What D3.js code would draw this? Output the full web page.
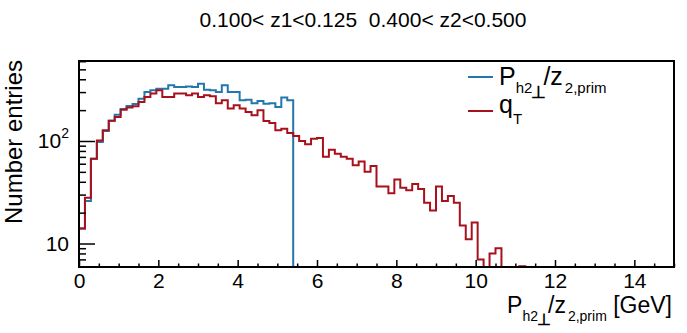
<!DOCTYPE html>
<html>
<head>
<meta charset="utf-8">
<script src="https://cdn.jsdelivr.net/npm/d3@7"></script>
<style>
html,body{margin:0;padding:0;background:#fff;}
svg{display:block;font-family:"Liberation Sans",Arial,Helvetica,sans-serif;}
</style>
</head>
<body>
<svg id="chart" width="687" height="333"></svg>
<script>
// ---- data ----
const binEdges = {min: 0, max: 15, n: 100};
const qT = [14,28,67,101,127,158,171,202,212,218,
            240,268,290,312,268,268,290,290,279,290,
            268,279,273,234,250,207,223,207,192,178,
            199,157,150,127,132,120,112,100,93,105,
            107,70,82,75,70,67,58,63,50,57,
            36,36,31,42,35,33,38,34,25,21,
            36,26,29,25,15,11,16,7,0,8,
            9,0,0,0,6,0,0,0,0,0,
            0,0,0,0,0,0,0,0,0,0,
            0,0,0,0,0,0,0,0,0,0];
const Pperp = [14,26,67,98,125,158,180,205,220,230,
               259,300,312,324,324,349,337,337,340,337,
               362,316,312,300,349,300,300,250,253,234,
               245,231,234,214,265,250];
const xMajorTicks = [0,2,4,6,8,10,12,14];
const yMajorTicks = [10,100];
const yMinorTicks = [6,7,8,9,20,30,40,50,60,70,80,90,200,300,400,500,600];
const titleText = "0.100< z1<0.125  0.400< z2<0.500";
const yTitle = "Number entries";

// ---- layout ----
const svg = d3.select("#chart");
const L = 79, R = 674, T = 61, B = 267;
const x = d3.scaleLinear().domain([binEdges.min, binEdges.max]).range([L, R]);
const y = d3.scaleLog().domain([5.9, 603]).range([B, T]);
const bw = (binEdges.max - binEdges.min) / binEdges.n;

function histPath(vals) {
  const pts = [];
  const yv = v => (v > y.domain()[0] ? y(v) : B);
  pts.push([x(0), B]);
  for (let i = 0; i < binEdges.n; i++) {
    const v = i < vals.length ? vals[i] : 0;
    pts.push([x(i * bw), yv(v)]);
    pts.push([x((i + 1) * bw), yv(v)]);
  }
  pts.push([x(binEdges.max), B]);
  return d3.line()(pts);
}

svg.append("path").attr("d", histPath(Pperp))
  .attr("fill", "none").attr("stroke", "#2477ad").attr("stroke-width", 2);
svg.append("path").attr("d", histPath(qT))
  .attr("fill", "none").attr("stroke", "#a8111c").attr("stroke-width", 2);

// frame
svg.append("rect").attr("x", L).attr("y", T).attr("width", R - L).attr("height", B - T)
  .attr("fill", "none").attr("stroke", "#000").attr("stroke-width", 2);

// x axis
const xMinor = d3.range(0, 15.01, 0.5).filter(v => v % 2 !== 0);
const gxMinor = svg.append("g").attr("transform", `translate(0,${B})`)
  .call(d3.axisBottom(x).tickValues(xMinor).tickSize(-3.5).tickFormat(""));
const gx = svg.append("g").attr("transform", `translate(0,${B})`)
  .call(d3.axisBottom(x).tickValues(xMajorTicks).tickSize(-7).tickPadding(6).tickFormat(d3.format("d")));
[gxMinor, gx].forEach(g => {
  g.select(".domain").remove();
  g.selectAll("line").attr("stroke", "#000").attr("stroke-width", 1.5);
});
gx.selectAll("text").attr("font-size", 21).attr("fill", "#000")
  .attr("font-family", "Liberation Sans, Arial, sans-serif");

// y axis
const gyMinor = svg.append("g").attr("transform", `translate(${L},0)`)
  .call(d3.axisLeft(y).tickValues(yMinorTicks).tickSize(-7).tickFormat(""));
const gy = svg.append("g").attr("transform", `translate(${L},0)`)
  .call(d3.axisLeft(y).tickValues(yMajorTicks).tickSize(-16).tickPadding(10).tickFormat(d => "10"));
[gyMinor, gy].forEach(g => {
  g.select(".domain").remove();
  g.selectAll("line").attr("stroke", "#000").attr("stroke-width", 1.5);
});
gy.selectAll("text").attr("font-size", 21).attr("fill", "#000")
  .attr("font-family", "Liberation Sans, Arial, sans-serif")
  .each(function(d) {
    if (d === 100) {
      d3.select(this).append("tspan").attr("font-size", 14).attr("dy", "-0.7em").text("2");
    }
  });

// title
svg.append("text").attr("x", 363).attr("y", 27).attr("text-anchor", "middle")
  .attr("font-size", 21).style("white-space", "pre").attr("xml:space", "preserve")
  .text(titleText);

// y title
svg.append("text").attr("transform", "translate(22,142) rotate(-90)")
  .attr("text-anchor", "middle").attr("font-size", 24).text(yTitle);

// rich label P_{h2⊥}/z_{2,prim}
function pLabel(g, size) {
  const sub = Math.round(size * 0.6);
  const t = g.append("text").attr("font-size", size);
  t.append("tspan").text("P");
  t.append("tspan").attr("font-size", sub).attr("dy", size * 0.33).text("h2");
  t.append("tspan").attr("font-size", sub + 2).attr("font-weight", "bold").attr("dy", size * 0.18).attr("dx", -1).text("⊥");
  t.append("tspan").attr("dy", -size * 0.51).attr("dx", -3).text("/z");
  t.append("tspan").attr("font-size", sub).attr("dy", size * 0.33).attr("dx", 2).text("2,prim");
  return t;
}

// x title
const xt = svg.append("g");
const xtt = pLabel(xt, 23);
xtt.append("tspan").attr("dy", -23 * 0.33).text(" [GeV]");
const bb = xtt.node().getBBox();
xt.attr("transform", `translate(${672 - bb.width},313)`);

// legend
const lg = svg.append("g");
const legendItems = [
  {color: "#2477ad", y: 77},
  {color: "#a8111c", y: 111}
];
legendItems.forEach(d => {
  lg.append("line").attr("x1", 468).attr("x2", 493).attr("y1", d.y).attr("y2", d.y)
    .attr("stroke", d.color).attr("stroke-width", 2);
});
const l1 = lg.append("g").attr("transform", "translate(499,85)");
pLabel(l1, 25);
const l2 = lg.append("text").attr("x", 499).attr("y", 113).attr("font-size", 25);
l2.append("tspan").text("q");
l2.append("tspan").attr("font-size", 15).attr("dy", 11).text("T");
</script>
</body>
</html>
